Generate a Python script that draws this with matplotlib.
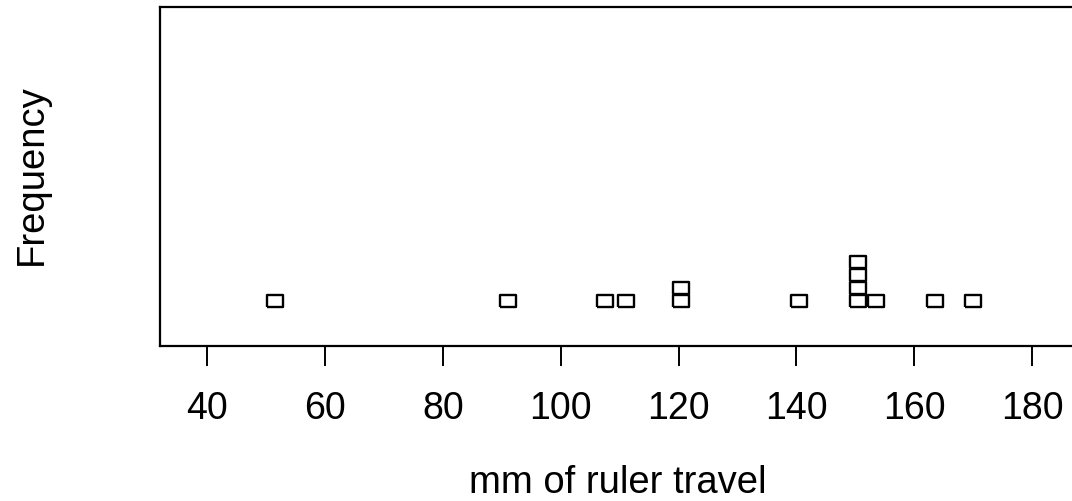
## Stripchart (stack) - mm of ruler travel ##
from collections import Counter
import matplotlib
matplotlib.use('Agg')
import matplotlib.pyplot as plt

## dados ##
travel_mm = [51.5, 91, 107.5, 111, 120.5, 120.5, 140.5,
             150.5, 150.5, 150.5, 150.5, 153.5, 163.5, 170]
x_ticks = [40, 60, 80, 100, 120, 140, 160, 180]

plt.rcParams['font.family'] = ['Liberation Sans', 'DejaVu Sans']

fig = plt.figure(figsize=(10.72, 5.02), dpi=100, facecolor='white')
ax = fig.add_axes([160 / 1072, 155 / 502, 931 / 1072, 339 / 502])

# empilhar valores repetidos
seen = Counter()
xs, ys = [], []
for v in travel_mm:
    xs.append(v)
    ys.append(seen[v])
    seen[v] += 1

box = [(-1.25, -1), (1.25, -1), (1.25, 1), (-1.25, 1), (-1.25, -1)]
ax.plot(xs, ys, linestyle='none', marker=box, markersize=11,
        markerfacecolor='none', markeredgecolor='black', markeredgewidth=1.7)

ax.set_xlim(32, 190)
ax.set_ylim(-3.46, 22.6)
ax.set_xticks(x_ticks)
ax.set_yticks([])
ax.tick_params(axis='x', direction='out', length=14.5, width=1.4,
               labelsize=27, pad=17, colors='black')
for s in ax.spines.values():
    s.set_linewidth(1.6)
ax.spines['right'].set_visible(False)

fig.text(618 / 1072, 1 - 493 / 502, 'mm of ruler travel', fontsize=27.5,
         ha='center', va='baseline')
fig.text(32 / 1072, 1 - 175 / 502, 'Frequency', fontsize=27.5,
         rotation=90, ha='center', va='center')

fig.savefig('out.png', dpi=100)
